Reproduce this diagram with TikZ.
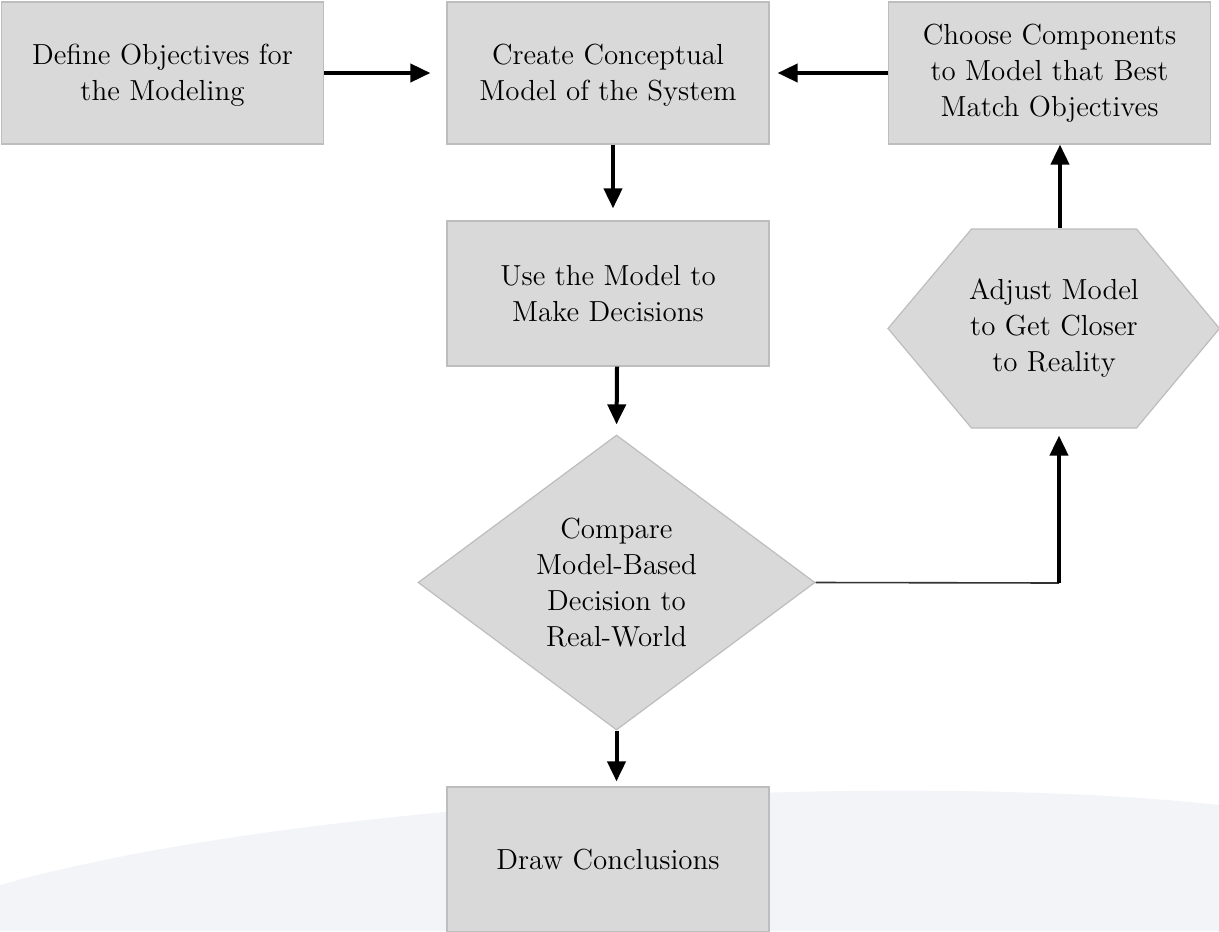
\documentclass[tikz,border=0pt]{standalone}
\usetikzlibrary{arrows.meta,shapes.geometric}
\definecolor{boxgray}{HTML}{D9D9D9}
\definecolor{edgegray}{HTML}{BDBDBD}
\definecolor{washblue}{HTML}{F2F4F8}
\begin{document}
\begin{tikzpicture}[x=0.5pt,y=-0.5pt,
    stepbox/.style={rectangle, fill=boxgray, draw=edgegray, line width=0.6pt,
      minimum width=161pt, minimum height=71pt, inner sep=0pt, align=center,
      font=\fontsize{14.5}{18}\selectfont},
    arr/.style={line width=2pt, -{Triangle[length=10pt,width=9pt]}}]
    \useasboundingbox (0,0) rectangle (1219,931);
    % faint background wash
    \fill[washblue] (0,885) .. controls (300,800) and (900,770) .. (1219,805) -- (1219,931) -- (0,931) -- cycle;
    \node[stepbox] (def) at (162.5,73) {\\[-6pt]Define Objectives for\\the Modeling};
    \node[stepbox] (cre) at (608,73) {\\[-6pt]Create Conceptual\\Model of the System};
    \node[stepbox] (cho) at (1049.5,73) {Choose Components\\to Model that Best\\Match Objectives};
    \node[stepbox, minimum height=72.5pt] (use) at (608,293.5) {Use the Model to\\Make Decisions};
    \node[stepbox, shape=diamond, aspect=1.346, minimum width=198.5pt, minimum height=147.5pt]
      (cmp) at (616.5,582.5) {Compare\\Model-Based\\Decision to\\Real-World};
    \node[stepbox, minimum height=72.5pt] (drw) at (608,859.5) {Draw Conclusions};
    % hexagon
    \draw[fill=boxgray, draw=edgegray, line width=0.6pt]
      (888,328.5) -- (971.5,229) -- (1136.5,229) -- (1219.5,328.5)
      -- (1136.5,428) -- (971.5,428) -- cycle;
    \node[stepbox, fill=none, draw=none, minimum width=82.5pt, minimum height=99.5pt]
      (adj) at (1054,328.5) {Adjust Model\\to Get Closer\\to Reality};
    \coordinate (turn) at (1059,583);
    \draw[arr, shorten >=8pt] (def.east) -- (cre.west);
    \draw[arr, shorten >=4pt] (cho.west) -- (cre.east);
    \draw[arr, shorten >=6pt] (cre.south -| 613,0) -- (use.north -| 613,0);
    \draw[arr, shorten >=5pt] (use.south -| 617,0) -- (cmp.north);
    \draw[arr, shorten >=2.5pt] (cmp.south) -- (drw.north -| cmp.south);
    \draw[line width=0.8pt, black!80] (cmp.east) -- (turn);
    \draw[arr, shorten >=3.5pt] (turn) -- (turn |- adj.south);
    \draw[arr] (adj.north -| 1060,0) -- (cho.south -| 1060,0);
\end{tikzpicture}
\end{document}
